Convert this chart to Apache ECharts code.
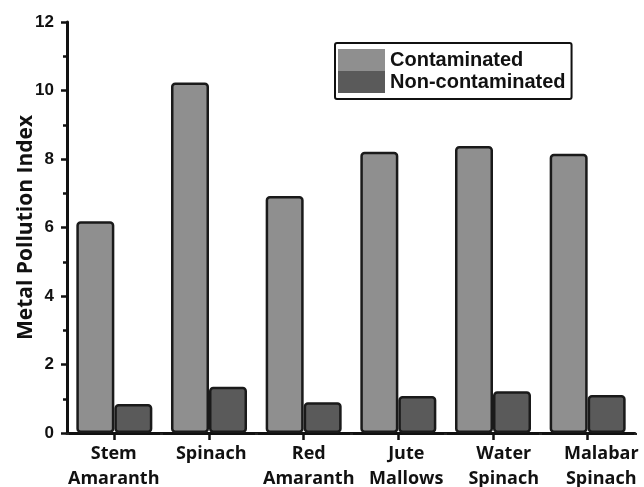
<!DOCTYPE html>
<html>
<head>
<meta charset="utf-8">
<script src="https://cdn.jsdelivr.net/npm/echarts@6/dist/echarts.min.js"></script>
<style>html,body{margin:0;padding:0;background:#fff;}#c{width:644px;height:487px;}</style>
</head>
<body>
<div id="c"></div>
<script>
var categories = ['Stem\nAmaranth', 'Spinach', 'Red\nAmaranth', 'Jute\nMallows', 'Water\nSpinach', 'Malabar\nSpinach'];
var contaminated = [6.18, 10.23, 6.92, 8.21, 8.38, 8.15];
var nonContaminated = [0.85, 1.35, 0.9, 1.08, 1.22, 1.11];
var yTicks = [0, 2, 4, 6, 8, 10, 12];
var seriesNames = ['Contaminated', 'Non-contaminated'];

var chart = echarts.init(document.getElementById('c'), null, {renderer: 'canvas'});
var option = {
  backgroundColor: '#ffffff',
  animation: false,
  legend: {
    orient: 'vertical',
    left: 335, top: 43,
    itemWidth: 47, itemHeight: 22, itemGap: 0,
    padding: [6, 6, 6, 3],
    borderColor: '#111', borderWidth: 2, borderRadius: 2,
    icon: 'rect',
    itemStyle: {borderWidth: 0},
    textStyle: {fontFamily: 'Liberation Sans', fontWeight: 'bold', fontSize: 20, color: '#111', lineHeight: 22},
    data: seriesNames
  },
  grid: [
    {left: 67, right: 9, top: 22, bottom: 54, containLabel: false, outerBoundsMode: 'none'},
    {left: 65, width: 585, top: 22, bottom: 54, containLabel: false, outerBoundsMode: 'none'}
  ],
  xAxis: [
    {
      type: 'category', gridIndex: 0, data: categories,
      axisLine: {show: true, lineStyle: {color: '#111', width: 3}},
      axisTick: {show: true, alignWithLabel: true, length: 7, lineStyle: {color: '#111', width: 2.5}},
      axisLabel: {show: false}
    },
    {
      type: 'category', gridIndex: 0, data: categories, position: 'bottom',
      axisLine: {show: false},
      axisTick: {show: true, alignWithLabel: false, length: 2, lineStyle: {color: '#222', width: 3}},
      axisLabel: {show: false}
    },
    {
      type: 'category', gridIndex: 1, data: categories,
      axisLine: {show: false}, axisTick: {show: false},
      axisLabel: {show: true, interval: 0, margin: 8, fontFamily: 'Open Sans', fontWeight: 'bold', fontSize: 18, color: '#111', lineHeight: 25}
    }
  ],
  yAxis: [
    {
      type: 'value', gridIndex: 0, min: yTicks[0], max: yTicks[yTicks.length - 1], interval: 2,
      name: 'Metal Pollution Index', nameLocation: 'middle', nameGap: 30, nameMoveOverlap: false,
      nameTextStyle: {fontFamily: 'Open Sans', fontWeight: 'bold', fontSize: 21, color: '#111'},
      axisLine: {show: true, lineStyle: {color: '#111', width: 3}},
      axisTick: {show: true, length: 6, lineStyle: {color: '#111', width: 2.5}},
      minorTick: {show: true, splitNumber: 2, length: 4, lineStyle: {color: '#111', width: 2.5}},
      splitLine: {show: false},
      axisLabel: {margin: 13, fontFamily: 'Liberation Sans', fontWeight: 'bold', fontSize: 17, color: '#111'}
    },
    {type: 'value', gridIndex: 1, show: false}
  ],
  series: [
    {
      name: seriesNames[0], type: 'bar', xAxisIndex: 0, yAxisIndex: 0,
      data: contaminated, barWidth: 38, barGap: '0%',
      itemStyle: {color: '#8f8f8f', borderColor: '#1a1a1a', borderWidth: 2.5, borderRadius: 3}
    },
    {
      name: seriesNames[1], type: 'bar', xAxisIndex: 0, yAxisIndex: 0,
      data: nonContaminated, barWidth: 38, barGap: '0%',
      itemStyle: {color: '#5a5a5a', borderColor: '#1a1a1a', borderWidth: 2.5, borderRadius: 3}
    }
  ]
};
chart.setOption(option);
</script>
</body>
</html>
